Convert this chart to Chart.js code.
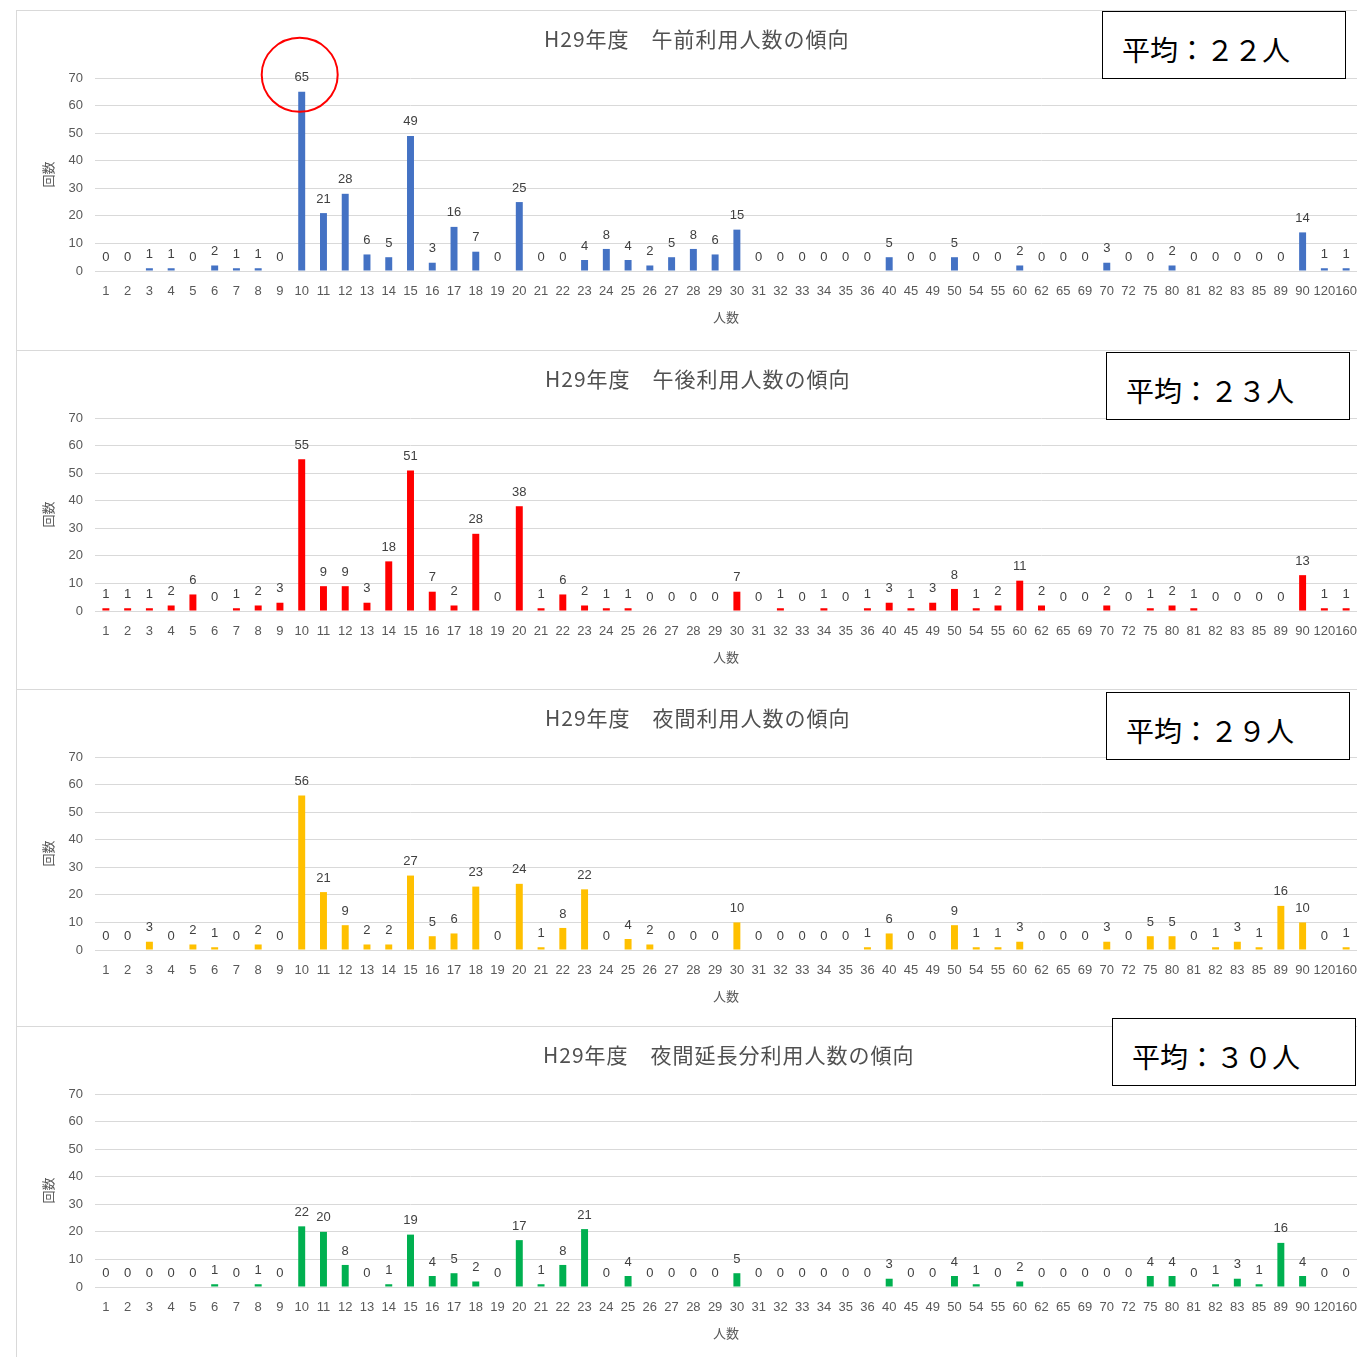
<!DOCTYPE html>
<html>
<head>
<meta charset="utf-8">
<script src="https://cdn.jsdelivr.net/npm/chart.js@4.4.1/dist/chart.umd.min.js"></script>
<style>
  html, body { margin: 0; padding: 0; background: #fff; overflow: hidden; width: 1357px; height: 1357px; }
  .panel { position: absolute; left: 16px; width: 1360px; height: 345px; border-left: 1px solid #d9d9d9; border-top: 1px solid #d9d9d9; }
  .panel canvas { position: absolute; left: 0; top: 0; }
  .title { position: absolute; font-family: 'Noto Sans CJK JP', sans-serif; font-size: 21px; letter-spacing: 1px; line-height: 22px; color: #505050; white-space: nowrap; }
  .avg { position: absolute; width: 244px; height: 68px; box-sizing: border-box; border: 1.5px solid #000; background: #fff;
         font-family: 'Noto Sans CJK JP', sans-serif; font-size: 28px; line-height: 74px; padding-left: 19px; color: #000; white-space: nowrap; }
</style>
</head>
<body>
<script>
// 人数 categories
const PEOPLE = ['1', '2', '3', '4', '5', '6', '7', '8', '9', '10',
  '11', '12', '13', '14', '15', '16', '17', '18', '19', '20',
  '21', '22', '23', '24', '25', '26', '27', '28', '29', '30',
  '31', '32', '33', '34', '35', '36',
  '40', '45', '49', '50', '54', '55',
  '60', '62', '65', '69', '70', '72',
  '75', '80', '81', '82', '83', '85',
  '89', '90', '120', '160'];

// 回数 per category
const MORNING = [0, 0, 1, 1, 0, 2, 1, 1, 0, 65,
  21, 28, 6, 5, 49, 3, 16, 7, 0, 25,
  0, 0, 4, 8, 4, 2, 5, 8, 6, 15,
  0, 0, 0, 0, 0, 0,
  5, 0, 0, 5, 0, 0,
  2, 0, 0, 0, 3, 0,
  0, 2, 0, 0, 0, 0,
  0, 14, 1, 1];

const AFTERNOON = [1, 1, 1, 2, 6, 0, 1, 2, 3, 55,
  9, 9, 3, 18, 51, 7, 2, 28, 0, 38,
  1, 6, 2, 1, 1, 0, 0, 0, 0, 7,
  0, 1, 0, 1, 0, 1,
  3, 1, 3, 8, 1, 2,
  11, 2, 0, 0, 2, 0,
  1, 2, 1, 0, 0, 0,
  0, 13, 1, 1];

const NIGHT = [0, 0, 3, 0, 2, 1, 0, 2, 0, 56,
  21, 9, 2, 2, 27, 5, 6, 23, 0, 24,
  1, 8, 22, 0, 4, 2, 0, 0, 0, 10,
  0, 0, 0, 0, 0, 1,
  6, 0, 0, 9, 1, 1,
  3, 0, 0, 0, 3, 0,
  5, 5, 0, 1, 3, 1,
  16, 10, 0, 1];

const NIGHT_EXT = [0, 0, 0, 0, 0, 1, 0, 1, 0, 22,
  20, 8, 0, 1, 19, 4, 5, 2, 0, 17,
  1, 8, 21, 0, 4, 0, 0, 0, 0, 5,
  0, 0, 0, 0, 0, 0,
  3, 0, 0, 4, 1, 0,
  2, 0, 0, 0, 0, 0,
  4, 4, 0, 1, 3, 1,
  16, 4, 0, 0];

const TITLES = ['H29年度　午前利用人数の傾向', 'H29年度　午後利用人数の傾向',
  'H29年度　夜間利用人数の傾向', 'H29年度　夜間延長分利用人数の傾向'];
const AVERAGES = ['平均：２２人', '平均：２３人', '平均：２９人', '平均：３０人'];
const Y_MIN = 0;
const Y_MAX = 70;
const Y_STEP = 10;

const NUM_FONT = "'Liberation Sans Narrow', 'Liberation Sans', sans-serif";
const JP_FONT = "'Noto Sans CJK JP', sans-serif";
const GREY = '#595959';

const panels = [
  { data: MORNING, color: '#4472C4', top: 10, titleX: 544, box: [1102, 11], circle: '10' },
  { data: AFTERNOON, color: '#FF0000', top: 350, titleX: 545, box: [1106, 352] },
  { data: NIGHT, color: '#FFC000', top: 689, titleX: 545, box: [1106, 692] },
  { data: NIGHT_EXT, color: '#00B050', top: 1026, titleX: 543, box: [1112, 1018] },
];

const valueLabels = {
  id: 'valueLabels',
  afterDatasetsDraw(chart) {
    const ctx = chart.ctx;
    const meta = chart.getDatasetMeta(0);
    const values = chart.data.datasets[0].data;
    ctx.save();
    ctx.font = '13px ' + NUM_FONT;
    ctx.fillStyle = '#404040';
    ctx.textAlign = 'center';
    ctx.textBaseline = 'middle';
    meta.data.forEach((bar, i) => {
      ctx.fillText(String(values[i]), bar.x, bar.y - 14);
    });
    ctx.restore();
  }
};

const circleMark = {
  id: 'circleMark',
  afterDraw(chart, args, opts) {
    if (!opts.label) return;
    const i = chart.data.labels.indexOf(opts.label);
    const bar = chart.getDatasetMeta(0).data[i];
    const ctx = chart.ctx;
    ctx.save();
    ctx.strokeStyle = '#FF0000';
    ctx.lineWidth = 2;
    ctx.beginPath();
    ctx.ellipse(bar.x - 2, bar.y - 17, 38, 37, 0, 0, Math.PI * 2);
    ctx.stroke();
    ctx.restore();
  }
};

panels.forEach((p, n) => {
  const div = document.createElement('div');
  div.className = 'panel';
  div.style.top = p.top + 'px';
  const canvas = document.createElement('canvas');
  canvas.width = 1360;
  canvas.height = 339;
  div.appendChild(canvas);
  document.body.appendChild(div);

  const title = document.createElement('div');
  title.className = 'title';
  title.textContent = TITLES[n];
  title.style.left = p.titleX + 'px';
  title.style.top = (p.top + 17) + 'px';
  document.body.appendChild(title);

  const avg = document.createElement('div');
  avg.className = 'avg';
  avg.textContent = AVERAGES[n];
  avg.style.left = p.box[0] + 'px';
  avg.style.top = p.box[1] + 'px';
  document.body.appendChild(avg);

  new Chart(canvas, {
    type: 'bar',
    data: {
      labels: PEOPLE,
      datasets: [{
        data: p.data,
        backgroundColor: p.color,
        categoryPercentage: 1,
        barPercentage: 0.32,
      }],
    },
    options: {
      responsive: false,
      animation: false,
      events: [],
      layout: { padding: { top: 67, right: 20, bottom: 0, left: 0 } },
      plugins: {
        legend: { display: false },
        tooltip: { enabled: false },
        circleMark: { label: p.circle },
      },
      scales: {
        x: {
          grid: { display: false, drawTicks: false },
          border: { display: false },
          ticks: {
            autoSkip: false, maxRotation: 0, minRotation: 0, padding: 13,
            color: GREY, font: { family: NUM_FONT, size: 13 },
          },
          title: {
            display: true, text: '人数', color: GREY,
            font: { family: JP_FONT, size: 13 }, padding: { top: 0, bottom: 25 },
          },
          afterFit(s) { s.height = 79; },
        },
        y: {
          min: Y_MIN,
          max: Y_MAX,
          grid: { color: '#d9d9d9', drawTicks: false },
          border: { display: false },
          ticks: {
            stepSize: Y_STEP, padding: 12,
            color: GREY, font: { family: NUM_FONT, size: 13 },
          },
          title: {
            display: true, text: '回数', color: GREY,
            font: { family: JP_FONT, size: 13 }, padding: { top: 23, bottom: 0 },
          },
          afterFit(s) { s.width = 78; },
        },
      },
    },
    plugins: [valueLabels, circleMark],
  });
});
</script>
</body>
</html>
